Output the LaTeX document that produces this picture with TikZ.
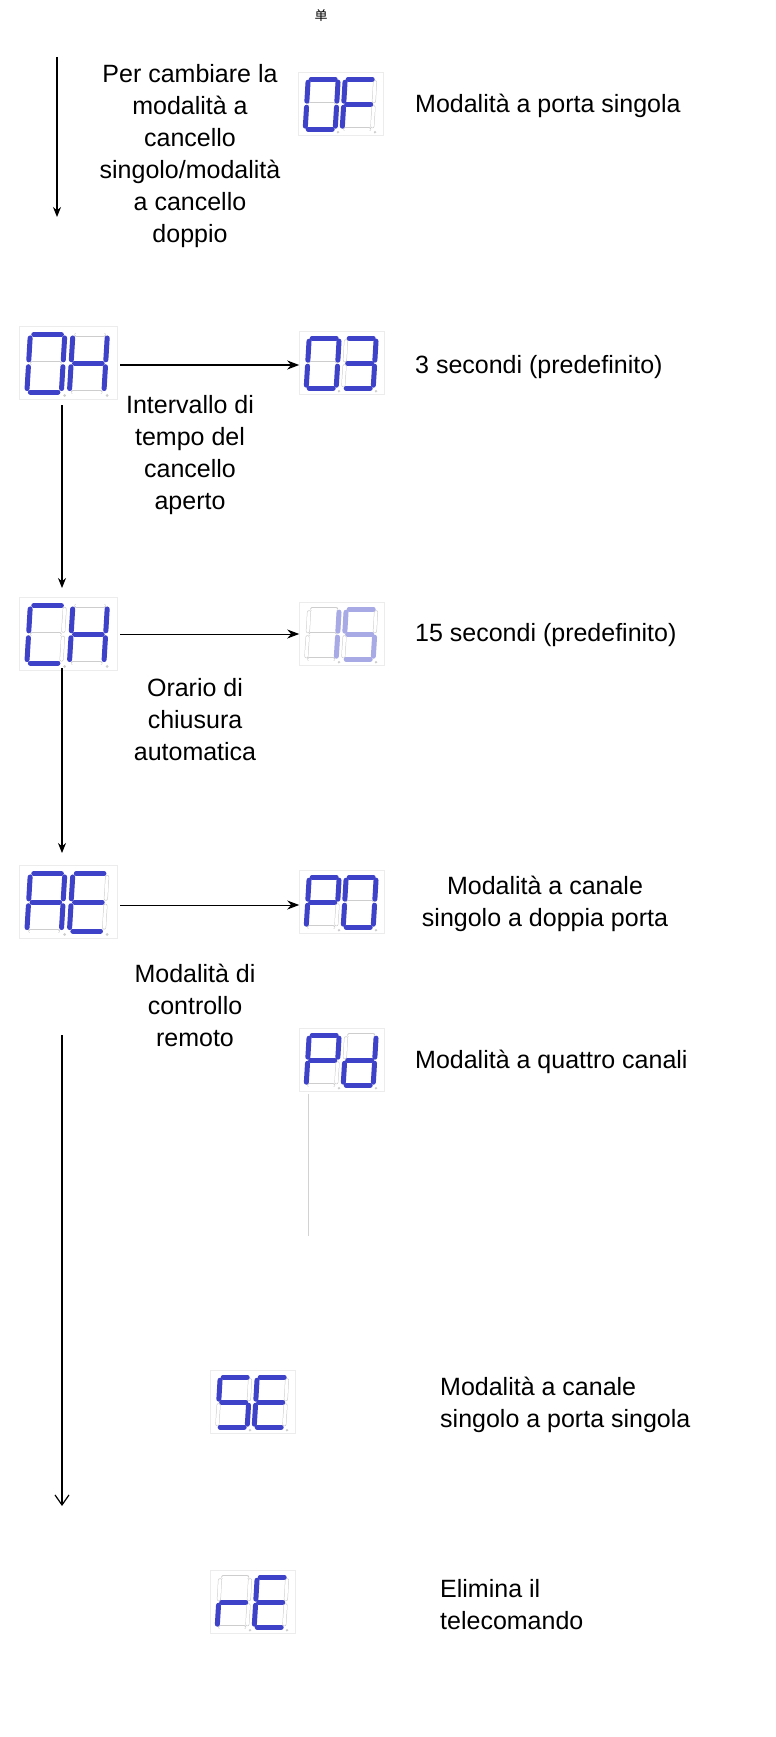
\documentclass[tikz,border=0pt]{standalone}
\usepackage{fontspec}
\setmainfont{Liberation Sans}
\newfontfamily\cjk{Noto Sans CJK SC}
\usetikzlibrary{arrows.meta}
\definecolor{segblue}{RGB}{62,66,200}
\definecolor{segoff}{RGB}{205,205,205}
\def\sega{(3,0)--(27,0)}
\def\segb{(30,3)--(30,22)}
\def\segc{(30,28)--(30,47)}
\def\segd{(3,50)--(27,50)}
\def\sege{(0,28)--(0,47)}
\def\segf{(0,3)--(0,22)}
\def\segg{(3,25)--(27,25)}
\newcommand\dig[3]{% xoffset, lit segments, colour
 \begin{scope}[shift={(#1,7)},xslant=0.06]
  \foreach \s in {a,b,c,d,e,f,g}{\draw[segoff,line width=0.5pt,double=white,double distance=3pt,line cap=round] \csname seg\s\endcsname;}
  \foreach \s in {#2}{\draw[#3,line width=5pt,line cap=round] \csname seg\s\endcsname;}
  \fill[segoff] (33,53) circle (1.3);
 \end{scope}}
\newcommand\disp[7]{% name, x, y, scale, segs1, segs2, colour
 \node[dbox,minimum width=#4*85pt,minimum height=#4*63pt] (#1) at (#2,#3) {};
 \begin{scope}[shift={(#1.north west)},scale=#4]
  \dig{10}{#5}{#7}\dig{47}{#6}{#7}
 \end{scope}}
\tikzset{
 dbox/.style={draw=gray!15,line width=0.6pt,inner sep=0pt},
 txt/.style={font=\fontsize{25}{32}\selectfont,align=center,inner sep=0pt},
 ltxt/.style={font=\fontsize{25}{32}\selectfont,align=left,anchor=west,inner sep=0pt},
 arr/.style={-{Stealth[length=10pt,width=8pt]},line width=1.2pt},
 harr/.style={-{Stealth[length=12pt,width=9pt]},line width=1pt},
}
\begin{document}
\begin{tikzpicture}[x=1pt,y=-1pt]
\useasboundingbox (0,0) rectangle (776,1737);
\node[font=\cjk\fontsize{13}{15}\selectfont] (dan) at (321,16) {单};
\coordinate (a1s) at (57,57); \coordinate (a1e) at (57,217);
\draw[arr] (a1s) -- (a1e);
\node[txt] (t1) at (190,156) {Per cambiare la\\modalità a\\cancello\\singolo/modalità\\a cancello\\doppio};
\disp{of}{341}{104}{1}{a,b,c,d,e,f}{a,f,g,e}{segblue}
\node[ltxt] (l1) at (415,106) {Modalità a porta singola};
\disp{oh}{68}{363}{1.15}{a,b,c,d,e,f}{b,c,e,f,g}{segblue}
\disp{o3}{342}{363}{1}{a,b,c,d,e,f}{a,b,c,d,g}{segblue}
\draw[harr,line width=1.8pt] (oh.east) ++(3,2) coordinate (h1s) -- (o3.west |- h1s);
\node[ltxt] (l2) at (415,367) {3 secondi (predefinito)};
\node[txt] (t2) at (190,455) {Intervallo di\\tempo del\\cancello\\aperto};
\coordinate (a2s) at (62,405); \coordinate (a2e) at (62,588);
\draw[arr] (a2s) -- (a2e);
\disp{ch}{68}{634}{1.15}{a,d,e,f}{b,c,e,f,g}{segblue}
\disp{d15}{342}{634}{1}{b,c}{a,f,g,c,d}{segblue!45}
\draw[harr] (ch.east) ++(3,0) coordinate (h2s) -- (d15.west |- h2s);
\node[ltxt] (l3) at (415,635) {15 secondi (predefinito)};
\node[txt] (t3) at (195,720) {Orario di\\chiusura\\automatica};
\coordinate (a3s) at (62,668); \coordinate (a3e) at (62,853);
\draw[arr] (a3s) -- (a3e);
\disp{ae}{68}{902}{1.15}{a,b,c,e,f,g}{a,d,e,f,g}{segblue}
\disp{p0}{342}{902}{1}{a,b,e,f,g}{a,b,c,d,e,f}{segblue}
\draw[harr] (ae.east) ++(3,3) coordinate (h3s) -- (p0.west |- h3s);
\node[txt] (l4) at (545,904) {Modalità  a canale\\singolo a doppia porta};
\node[txt] (t4) at (195,1005) {Modalità di\\controllo\\remoto};
\disp{pd}{342}{1060}{1}{a,b,e,f,g}{b,c,d,e,g}{segblue}
\node[ltxt] (l5) at (415,1062) {Modalità a quattro canali};
\coordinate (g1) at (308,1094); \coordinate (g2) at (308,1236);
\draw[gray!35,line width=0.6pt] (g1) -- (g2);
\coordinate (a4s) at (62,1035); \coordinate (a4e) at (62,1506);
\draw[-{Straight Barb[length=10pt,width=14pt]},line width=1.2pt] (a4s) -- (a4e);
\disp{se}{253}{1402}{1}{a,f,g,c,d}{a,d,e,f,g}{segblue}
\node[ltxt] (l6) at (440,1405) {Modalità a canale\\singolo a porta singola};
\disp{re}{253}{1602}{1}{e,g}{a,d,e,f,g}{segblue}
\node[ltxt] (l7) at (440,1605) {Elimina il\\telecomando};
\end{tikzpicture}
\end{document}
